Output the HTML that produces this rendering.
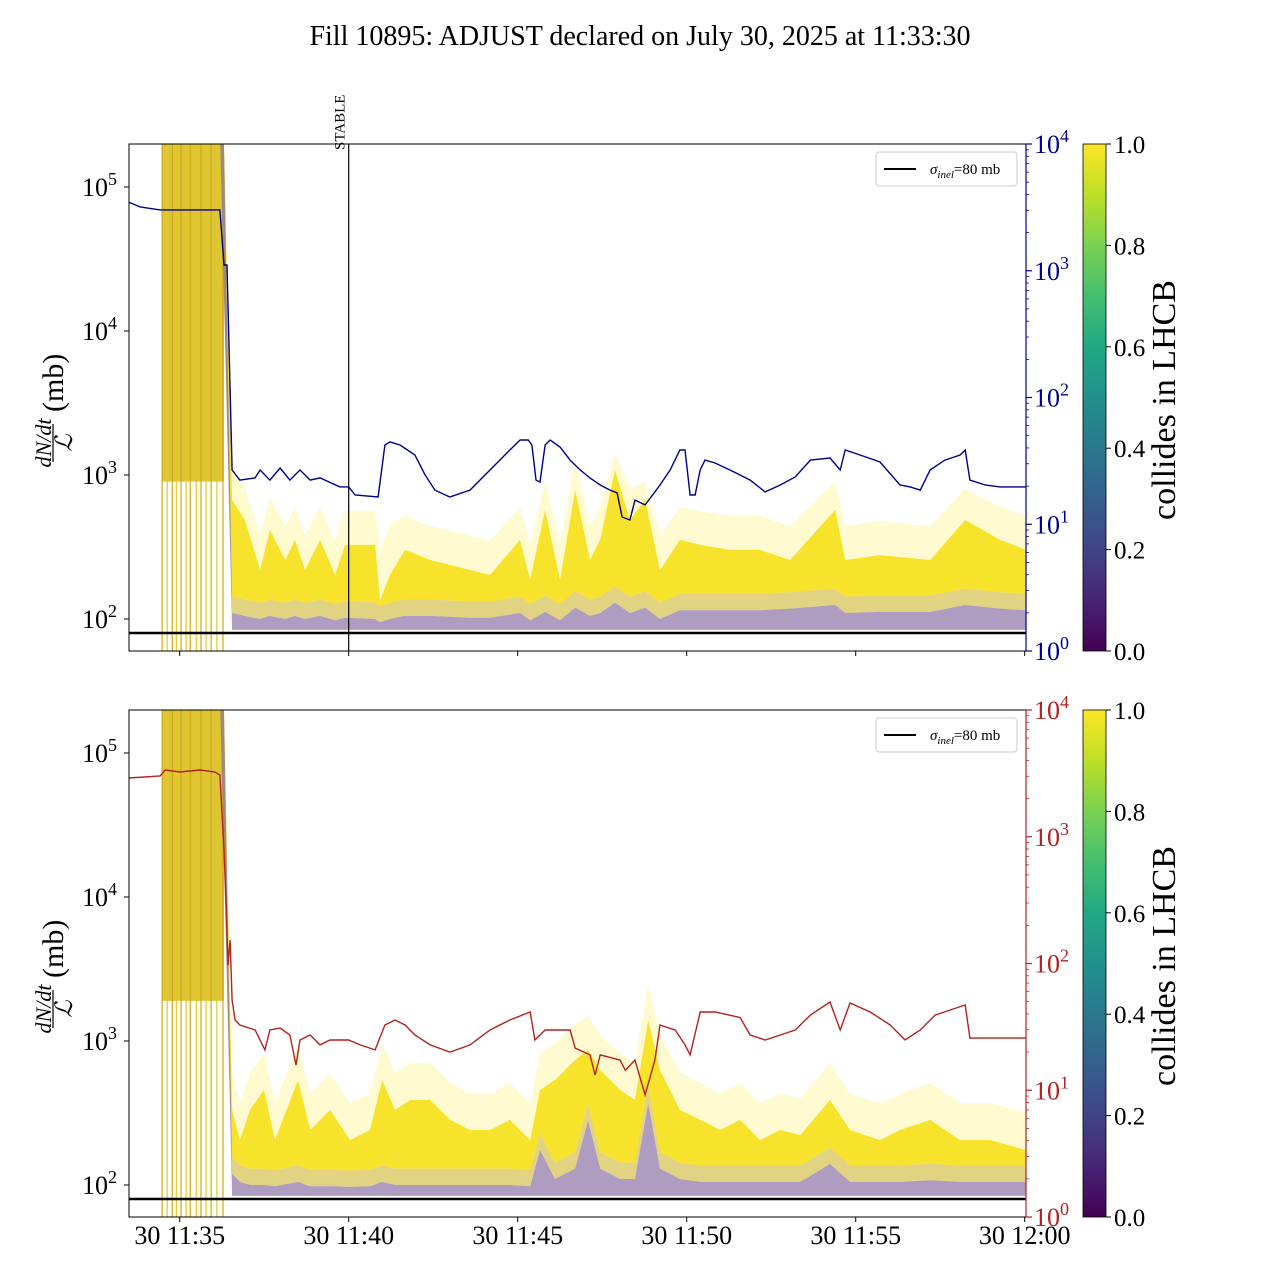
<!DOCTYPE html>
<html><head><meta charset="utf-8"><style>
html,body{margin:0;padding:0;background:#fff;}
svg{display:block;font-family:"Liberation Serif","DejaVu Serif",serif;}
</style></head><body>
<svg id="chart" width="1280" height="1280" viewBox="0 0 1280 1280" xmlns="http://www.w3.org/2000/svg">
<defs>
<linearGradient id="viridis" x1="0" y1="1" x2="0" y2="0">
<stop offset="0" stop-color="#440154"/><stop offset="0.1" stop-color="#482475"/><stop offset="0.2" stop-color="#414487"/><stop offset="0.3" stop-color="#355f8d"/><stop offset="0.4" stop-color="#2a788e"/><stop offset="0.5" stop-color="#21918c"/><stop offset="0.6" stop-color="#22a884"/><stop offset="0.7" stop-color="#44bf70"/><stop offset="0.8" stop-color="#7ad151"/><stop offset="0.9" stop-color="#bddf26"/><stop offset="1" stop-color="#fde725"/>
</linearGradient>
<clipPath id="clipTop"><rect x="129" y="144" width="897" height="507"/></clipPath>
<clipPath id="clipBot"><rect x="129" y="710" width="897" height="507"/></clipPath>
</defs>
<text x="640" y="45" font-size="28" text-anchor="middle">Fill 10895: ADJUST declared on July 30, 2025 at 11:33:30</text>
</svg>
<script>
// ---- data (time in minutes after 11:30) ----
const blueT=[3.5,3.83,4.42,6.19,6.31,6.40,6.55,6.78,7.23,7.38,7.67,7.97,8.26,8.56,8.86,9.15,9.74,10.0,10.19,10.87,11.07,11.22,11.52,11.96,12.26,12.55,12.99,13.59,14.18,14.77,15.07,15.31,15.42,15.54,15.66,15.81,15.96,16.25,16.55,16.85,17.14,17.44,17.73,17.94,18.09,18.32,18.47,18.77,19.06,19.21,19.51,19.80,19.95,20.10,20.25,20.40,20.54,20.84,21.28,21.88,22.32,22.77,23.21,23.66,24.24,24.54,24.69,25.13,25.72,26.31,26.61,26.91,27.20,27.64,28.09,28.24,28.38,28.83,29.27,30.04];
const blueV=[3470,3186,3020,3020,1110,1110,26.8,22.3,23.2,26.8,22.3,27.8,22.3,26.8,22.3,23.2,19.7,19.7,17.0,16.4,42.2,44.6,42.2,35.2,24.5,18.6,16.4,18.6,26.8,38.5,46.2,46.2,42.2,22.3,21.5,42.2,46.2,40.7,32.1,26.8,23.2,20.4,18.6,17.7,11.4,10.8,15.5,14.2,18.0,20.4,26.8,38.5,38.5,17.0,17.0,26.8,32.1,30.4,26.8,22.3,18.0,20.4,23.6,32.1,33.3,26.8,38.5,35.2,31.0,20.4,19.7,18.6,26.8,32.1,35.2,38.5,22.3,20.4,19.7,19.7];
const redT=[3.5,4.42,4.57,5.01,5.60,6.04,6.19,6.31,6.37,6.43,6.49,6.55,6.64,6.78,7.23,7.52,7.67,7.97,8.26,8.44,8.56,8.86,9.15,9.45,9.74,10.0,10.34,10.78,11.07,11.37,11.67,11.96,12.41,13.0,13.59,14.18,14.77,15.37,15.51,15.81,16.55,16.70,17.14,17.29,17.44,18.03,18.18,18.47,18.77,19.06,19.21,19.66,19.95,20.10,20.40,20.84,21.58,21.88,22.32,22.77,23.21,23.66,24.24,24.54,24.83,25.43,26.02,26.46,26.91,27.35,27.80,28.24,28.38,28.83,30.04];
const redV=[2910,3015,3365,3245,3365,3245,3070,786,317,97,153,51.5,35.8,32.7,29.9,20.8,29.9,31.0,27.3,15.8,24.9,27.3,22.8,24.9,24.9,24.9,22.8,20.8,32.7,35.8,32.7,27.3,22.8,20.0,22.8,29.9,35.8,41.4,24.9,29.9,29.9,21.5,19.0,13.2,19.0,17.3,14.4,17.3,9.2,17.3,32.7,29.9,22.8,19.0,41.4,41.4,37.5,27.3,24.9,27.3,29.9,39.2,49.7,29.9,48.8,41.4,32.7,24.9,29.9,39.2,43.0,47.1,25.8,25.8,25.8];
// bundle envelopes (mb)
const topT=[6.55,6.93,7.38,7.67,8.12,8.41,8.71,9.15,9.60,9.89,10.78,10.93,11.22,11.67,12.41,13.59,14.18,15.07,15.37,15.81,16.25,16.70,17.14,17.44,17.88,18.32,18.77,19.21,19.80,20.40,21.28,22.17,23.06,24.39,24.69,25.72,27.20,28.24,29.27,30.04];
const topDense=[670,487,219,415,257,354,219,354,202,327,327,135,202,302,257,219,202,354,187,571,187,787,257,354,1084,487,670,219,354,327,302,302,257,571,257,278,257,487,354,302];
const topFaint=[1100,830,380,700,440,600,380,600,350,560,560,300,450,520,440,380,350,600,330,900,330,1300,440,600,1400,800,900,380,600,560,520,520,440,900,440,480,440,800,600,520];
const topPurple=[110,105,100,105,100,105,100,105,98,102,100,95,100,105,105,102,102,110,98,112,98,120,105,110,130,110,120,100,115,115,115,115,118,125,110,112,112,125,118,115];
const botT=[6.55,6.78,7.08,7.49,7.82,8.50,8.86,9.45,10.04,10.63,10.99,11.37,11.82,12.41,13.00,13.59,14.18,14.77,15.37,15.66,16.10,16.70,17.08,17.44,18.03,18.47,18.86,19.21,19.80,20.40,20.99,21.58,22.17,22.76,23.36,24.24,24.83,25.72,26.31,27.20,28.09,28.98,30.04];
const botDense=[332,205,332,457,205,536,241,332,205,241,536,332,389,389,283,241,241,283,205,457,536,738,866,629,457,389,1399,629,332,283,241,283,205,241,222,389,241,205,241,283,205,205,175];
const botFaint=[600,370,600,820,370,960,430,600,370,430,960,600,700,700,510,430,430,510,370,820,960,1300,1500,1100,820,700,2500,1100,600,510,430,510,370,430,400,700,430,370,430,510,370,370,320];
const botPurple=[120,105,100,100,98,105,98,98,97,98,105,100,100,100,100,100,100,100,98,175,110,130,280,130,110,110,370,130,110,105,105,105,105,105,105,140,105,105,105,108,105,105,105];
const preLines=[4.48,4.63,4.78,4.90,5.04,5.19,5.31,5.49,5.63,5.78,5.93,6.10,6.28];
const xTickT=[5,10,15,20,25,30];
const xTickLabels=["30 11:35","30 11:40","30 11:45","30 11:50","30 11:55","30 12:00"];
const leftExp=[2,3,4,5];
const rightExp=[0,1,2,3,4];
const cbTicks=[0,0.2,0.4,0.6,0.8,1.0];
const cbLabels=["0.0","0.2","0.4","0.6","0.8","1.0"];
const sigmaInel=80;
const stableT=10;

const NS="http://www.w3.org/2000/svg";
const svg=document.getElementById('chart');
function el(tag,attrs,parent){const e=document.createElementNS(NS,tag);for(const k in attrs)e.setAttribute(k,attrs[k]);(parent||svg).appendChild(e);return e;}
const X0=129,X1=1026;
function xOf(t){return X0+(t-3.5)*(169/5);}

function panel(top,rightColor,lineT,lineV,bT,bDense,bFaint,bPurple,clip,name,blockLow,showXLabels){
  const bottom=top+507;
  const base=top+475; // y of 10^2
  const yL=v=>base-(Math.log10(v)-2)*144;
  const yR=v=>bottom-Math.log10(v)*126.75;
  const g=el('g',{'clip-path':'url(#'+clip+')'});
  
  
  const blk=el('rect',{x:xOf(preLines[0]),y:top,width:xOf(6.31)-xOf(preLines[0]),height:yL(blockLow)-top,fill:'#d8bf22','fill-opacity':'0.9'},g);
  
  
  preLines.forEach((t,i)=>{
    const l=el('line',{x1:xOf(t),x2:xOf(t),y1:top,y2:bottom,stroke:i%2?'#e8c81a':'#d4a80a','stroke-width':1.2},g);
    
    
  });
  function band(upper,lower,fill,op,dn){
    let d='M'+xOf(6.31)+','+yL(2e5);
    bT.forEach((t,i)=>{d+=' L'+xOf(t).toFixed(1)+','+yL(upper[i]).toFixed(1);});
    for(let i=bT.length-1;i>=0;i--){d+=' L'+xOf(bT[i]).toFixed(1)+','+yL(lower[i]).toFixed(1);}
    d+=' L'+xOf(6.2)+','+yL(2e5)+'Z';
    const p=el('path',{d:d,fill:fill,'fill-opacity':op},g);
    
    
  }
  const low=bT.map(()=>84);
  const mid=bPurple.map(v=>v*1.3);
  band(bFaint,mid,'#fde725',0.22,name+'-bundle-faint');
  band(bDense,mid,'#f7e122',0.95,name+'-bundle-dense');
  band(mid,bPurple,'#d8c45a',0.75,name+'-bundle-transition');
  band(bPurple,low,'#7a5a98',0.6,name+'-bundle-low-colliding');
  const sl=el('line',{x1:X0,x2:X1,y1:yL(sigmaInel),y2:yL(sigmaInel),stroke:'#000','stroke-width':2.5},g);
  
  
  let d='';
  lineT.forEach((t,i)=>{d+=(i?' L':'M')+xOf(t).toFixed(1)+','+yR(lineV[i]).toFixed(1);});
  const lp=el('path',{d:d,fill:'none',stroke:rightColor,'stroke-width':1.4},g);
  
  
  const fr=el('rect',{x:X0,y:top,width:X1-X0,height:507,fill:'none',stroke:'#000','stroke-width':1});
  
  
  const ra=el('line',{x1:X1,x2:X1,y1:top,y2:bottom,stroke:rightColor,'stroke-width':1.2});
  
  
  xTickT.forEach((t,i)=>{
    el('line',{x1:xOf(t),x2:xOf(t),y1:bottom,y2:bottom+5,stroke:'#000','stroke-width':1});
    if(showXLabels){
      const tx=el('text',{x:xOf(t),y:bottom+27,'font-size':26,'text-anchor':'middle'});
      tx.textContent=xTickLabels[i];
      
      
    }
  });
  leftExp.forEach(e=>{
    const y=yL(Math.pow(10,e));
    el('line',{x1:X0-5,x2:X0,y1:y,y2:y,stroke:'#000'});
    const tx=el('text',{x:117,y:y+9,'font-size':26,'text-anchor':'end'});
    tx.innerHTML='10<tspan font-size="18" dy="-11">'+e+'</tspan>';
    
    
  });
  rightExp.forEach(e=>{
    const y=yR(Math.pow(10,e));
    el('line',{x1:X1,x2:X1+6,y1:y,y2:y,stroke:rightColor,'stroke-width':1.2});
    if(e<4){for(let m=2;m<10;m++){const ym=yR(m*Math.pow(10,e));el('line',{x1:X1,x2:X1+3,y1:ym,y2:ym,stroke:rightColor,'stroke-width':0.8});}}
    const tx=el('text',{x:1034,y:y+9,'font-size':26,fill:rightColor});
    tx.innerHTML='10<tspan font-size="18" dy="-11">'+e+'</tspan>';
    
    
  });
  const yl=el('g',{transform:'translate(0,'+(top+256)+') rotate(-90)'});
  
  
  const n=el('text',{x:-43,y:51,'font-size':22,'font-style':'italic','text-anchor':'middle'},yl);n.textContent='dN/dt';
  el('line',{x1:-62,x2:-24,y1:53,y2:53,stroke:'#000','stroke-width':1.2},yl);
  const dd=el('text',{x:-43,y:72,'font-size':24,'font-style':'italic','text-anchor':'middle'},yl);dd.textContent='ℒ';
  const mb=el('text',{x:-12,y:63,'font-size':30},yl);mb.textContent='(mb)';
  const lg=el('g',{});
  
  
  el('rect',{x:876,y:top+8,width:141,height:34,rx:3,fill:'#fff','fill-opacity':0.85,stroke:'#ccc'},lg);
  el('line',{x1:884,x2:916,y1:top+25,y2:top+25,stroke:'#000','stroke-width':2},lg);
  const lt=el('text',{x:930,y:top+30,'font-size':15},lg);
  lt.innerHTML='<tspan font-style="italic">σ</tspan><tspan font-style="italic" font-size="11" dy="4">inel</tspan><tspan dy="-4">=80 mb</tspan>';
  const cb=el('rect',{x:1083,y:top,width:23,height:507,fill:'url(#viridis)'});
  
  
  el('rect',{x:1083,y:top,width:23,height:507,fill:'none',stroke:'#000','stroke-width':0.8});
  cbTicks.forEach((v,i)=>{
    const y=bottom-v*507;
    el('line',{x1:1106,x2:1111,y1:y,y2:y,stroke:'#000'});
    const tx=el('text',{x:1114,y:y+9,'font-size':25});
    tx.textContent=cbLabels[i];
    
    
  });
  const cl=el('text',{x:0,y:0,'font-size':34,'text-anchor':'middle',transform:'translate(1175,'+(top+256)+') rotate(-90)'});
  cl.textContent='collides in LHCB';
  
  
}
panel(144,'#00008b',blueT,blueV,topT,topDense,topFaint,topPurple,'clipTop','top',900,false);
panel(710,'#b22222',redT,redV,botT,botDense,botFaint,botPurple,'clipBot','bottom',1900,true);
const st=el('line',{x1:xOf(stableT),x2:xOf(stableT),y1:144,y2:651,stroke:'#000','stroke-width':1.2});


const stt=el('text',{x:0,y:0,'font-size':15,transform:'translate('+(xOf(stableT)-4)+',150) rotate(-90)'});
stt.textContent='STABLE';


</script>
</body></html>
